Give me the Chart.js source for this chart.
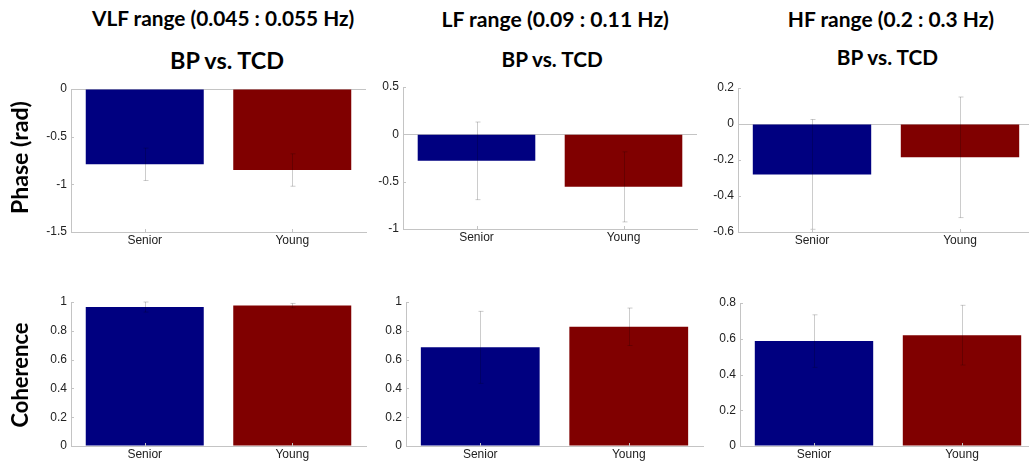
<!DOCTYPE html>
<html><head><meta charset="utf-8">
<script src="https://cdn.jsdelivr.net/npm/chart.js"></script>
<style>
html,body{margin:0;padding:0;background:#fff;overflow:hidden;width:1029px;height:466px;position:relative}
canvas{position:absolute}
.t{position:absolute;font-family:Lato,"Open Sans",sans-serif;font-weight:bold;color:#000;white-space:nowrap}
</style></head><body>
<script>
// ---------- data ----------
const categories = ['Senior', 'Young'];
const phaseVLF = [-0.79, -0.85];
const phaseVLFErr = [0.17, 0.17];
const phaseLF = [-0.28, -0.555];
const phaseLFErr = [0.41, 0.37];
const phaseHF = [-0.28, -0.185];
const phaseHFErr = [0.305, 0.335];
const cohVLF = [0.965, 0.975];
const cohVLFErr = [0.035, 0.015];
const cohLF = [0.685, 0.828];
const cohLFErr = [0.25, 0.13];
const cohHF = [0.587, 0.62];
const cohHFErr = [0.147, 0.167];
const ticksPhaseVLF = [-1.5, -1, -0.5, 0];
const ticksPhaseLF = [-1, -0.5, 0, 0.5];
const ticksPhaseHF = [-0.6, -0.4, -0.2, 0, 0.2];
const ticksCohVLF = [0, 0.2, 0.4, 0.6, 0.8, 1];
const ticksCohLF = [0, 0.2, 0.4, 0.6, 0.8, 1];
const ticksCohHF = [0, 0.2, 0.4, 0.6, 0.8];
const columnTitles = ['VLF range (0.045 : 0.055 Hz)', 'LF range (0.09 : 0.11 Hz)', 'HF range (0.2 : 0.3 Hz)'];
const subTitle = 'BP vs. TCD';
const rowTitles = ['Phase (rad)', 'Coherence'];
const barColors = ['#000080', '#800000'];

// ---------- layout ----------
const AX = '#c4c4c4';
const YW = 50, PT = 14, PR = 6, XH = 20;
const panels = [
  {vals: phaseVLF, errs: phaseVLFErr, ticks: ticksPhaseVLF, l: 71, t: 89, r: 366, b: 232},
  {vals: phaseLF, errs: phaseLFErr, ticks: ticksPhaseLF, l: 403, t: 87, r: 697, b: 229},
  {vals: phaseHF, errs: phaseHFErr, ticks: ticksPhaseHF, l: 738, t: 88, r: 1034, b: 232},
  {vals: cohVLF, errs: cohVLFErr, ticks: ticksCohVLF, l: 71, t: 302, r: 366, b: 446},
  {vals: cohLF, errs: cohLFErr, ticks: ticksCohLF, l: 406, t: 302, r: 703, b: 446},
  {vals: cohHF, errs: cohHFErr, ticks: ticksCohHF, l: 740, t: 303, r: 1036, b: 446}
];

const errPlugin = {
  id: 'errbars',
  afterDatasetsDraw(chart) {
    const ctx = chart.ctx, ys = chart.scales.y, xs = chart.scales.x, ca = chart.chartArea;
    const ds = chart.data.datasets[0];
    const meta = chart.getDatasetMeta(0);
    ctx.save();
    ctx.lineWidth = 1;
    ctx.strokeStyle = 'rgba(0,0,0,0.2)';
    meta.data.forEach((bar, i) => {
      const v = ds.data[i], e = ds.errs[i];
      const x = Math.round(bar.x) + 0.5;
      const y1 = ys.getPixelForValue(v + e), y2 = ys.getPixelForValue(v - e);
      ctx.beginPath();
      ctx.moveTo(x, y1); ctx.lineTo(x, y2);
      ctx.moveTo(x - 2, y1); ctx.lineTo(x + 3, y1);
      ctx.moveTo(x - 2, y2); ctx.lineTo(x + 3, y2);
      ctx.stroke();
    });
    ctx.strokeStyle = AX;
    ys.ticks.forEach(t => {
      const y = Math.round(ys.getPixelForValue(t.value)) + 0.5;
      ctx.beginPath(); ctx.moveTo(ca.left, y); ctx.lineTo(ca.left + 3, y); ctx.stroke();
    });
    xs.ticks.forEach((t, i) => {
      const x = Math.round(xs.getPixelForValue(i)) + 0.5;
      ctx.beginPath(); ctx.moveTo(x, ca.bottom); ctx.lineTo(x, ca.bottom - 3); ctx.stroke();
    });
    ctx.restore();
  }
};

panels.forEach(p => {
  const c = document.createElement('canvas');
  const w = YW + (p.r - p.l) + PR, h = PT + (p.b - p.t) + XH;
  c.width = w; c.height = h;
  c.style.left = (p.l - YW) + 'px'; c.style.top = (p.t - PT) + 'px';
  c.style.width = w + 'px'; c.style.height = h + 'px';
  document.body.appendChild(c);
  new Chart(c, {
    type: 'bar',
    data: {labels: categories, datasets: [{data: p.vals, errs: p.errs, backgroundColor: barColors,
      borderWidth: 0, barPercentage: 0.8, categoryPercentage: 1}]},
    options: {
      responsive: false, animation: false, events: [],
      layout: {padding: {top: PT, right: PR, left: 0, bottom: 0}},
      plugins: {legend: {display: false}, tooltip: {enabled: false}},
      scales: {
        x: {type: 'category', offset: true,
          grid: {display: false, drawTicks: false},
          border: {display: true, color: AX},
          ticks: {padding: 1, color: '#222', font: {family: 'Liberation Sans', size: 12}, maxRotation: 0},
          afterFit: s => { s.height = XH; }},
        y: {min: p.ticks[0], max: p.ticks[p.ticks.length - 1],
          afterBuildTicks: s => { s.ticks = p.ticks.map(v => ({value: v})); },
          grid: {drawTicks: false, color: ctx => (ctx.tick && ctx.tick.value === 0) ? AX : 'rgba(0,0,0,0)'},
          border: {display: true, color: AX},
          ticks: {padding: 4, color: '#222', font: {family: 'Liberation Sans', size: 12}, callback: v => String(v)},
          afterFit: s => { s.width = YW; }}
      }
    },
    plugins: [errPlugin]
  });
});

// ---------- text labels ----------
const mctx = document.createElement('canvas').getContext('2d');
const FAM = 'Lato';
function metrics(text) {
  mctx.font = 'bold 100px ' + FAM;
  const m = mctx.measureText(text);
  const H = mctx.measureText('H');
  return {w: m.width, A: m.fontBoundingBoxAscent, D: m.fontBoundingBoxDescent, cap: H.actualBoundingBoxAscent};
}
function hText(text, cx, capC, width) {
  const m = metrics(text);
  const fs = 100 * width / m.w, k = fs / 100;
  const L = fs;
  const baseFromTop = (L - (m.A + m.D) * k) / 2 + m.A * k;
  const d = document.createElement('div');
  d.className = 't'; d.textContent = text;
  d.style.fontSize = fs + 'px'; d.style.lineHeight = L + 'px';
  d.style.left = (cx - width / 2) + 'px';
  d.style.top = (capC + m.cap * k / 2 - baseFromTop) + 'px';
  document.body.appendChild(d);
}
function vText(text, baseX, cy, len) {
  const m = metrics(text);
  const fs = 100 * len / m.w, k = fs / 100;
  const L = fs;
  const baseFromTop = (L - (m.A + m.D) * k) / 2 + m.A * k;
  const dyb = baseFromTop - L / 2;
  const cx = baseX - dyb;
  const d = document.createElement('div');
  d.className = 't'; d.textContent = text;
  d.style.fontSize = fs + 'px'; d.style.lineHeight = L + 'px';
  d.style.width = len + 'px'; d.style.height = L + 'px';
  d.style.left = (cx - len / 2) + 'px';
  d.style.top = (cy - L / 2) + 'px';
  d.style.transformOrigin = '50% 50%';
  d.style.transform = 'rotate(-90deg)';
  document.body.appendChild(d);
}
hText(columnTitles[0], 223.5, 19, 263);
hText(columnTitles[1], 555.5, 20.5, 228);
hText(columnTitles[2], 891.3, 19.3, 207);
hText(subTitle, 228, 61.5, 116);
hText(subTitle, 553, 60, 103);
hText(subTitle, 888.3, 57.8, 103);
vText(rowTitles[0], 28.5, 158, 113);
vText(rowTitles[1], 28.5, 374.5, 105);
</script>
</body></html>
